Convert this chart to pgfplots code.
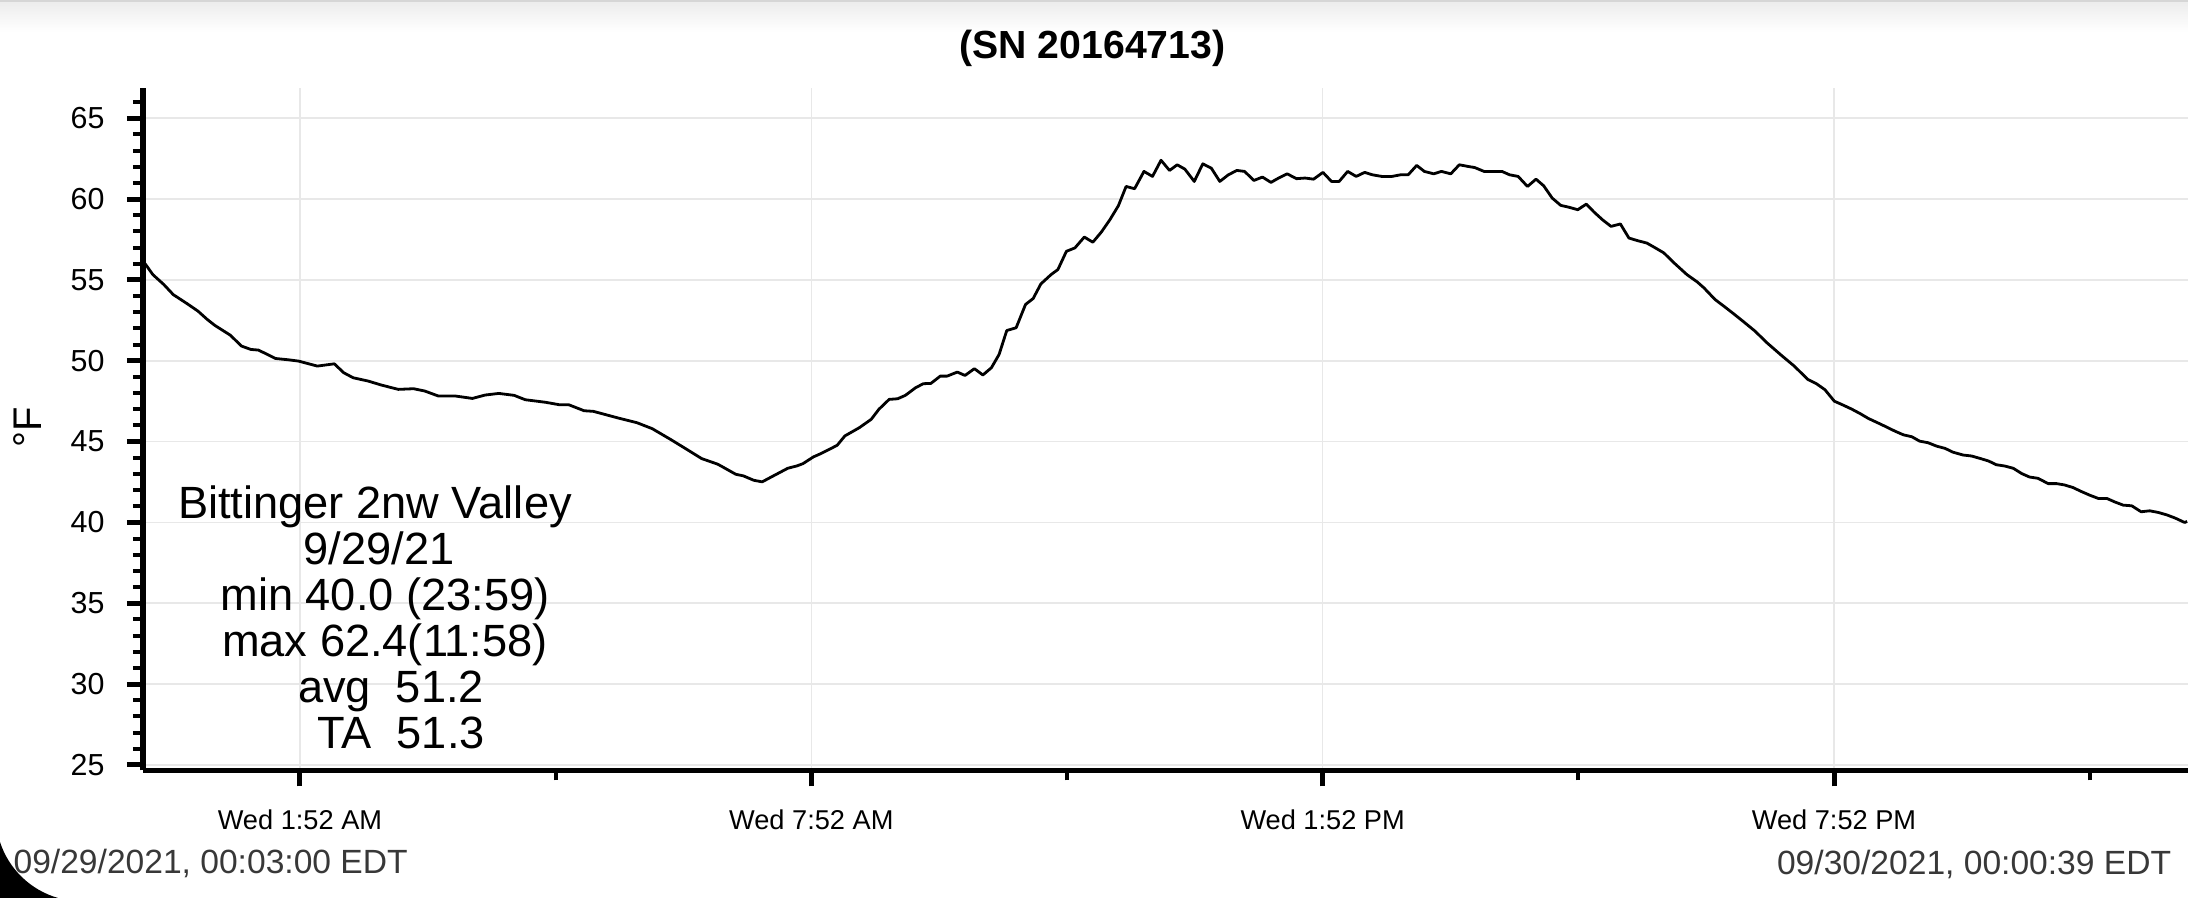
\documentclass[border=0pt]{standalone}
\usepackage{fontspec}
\setmainfont{Liberation Sans}
\usepackage{pgfplots}
\pgfplotsset{compat=1.18}
\pgfplotstableread{
h t
0.05 56.00
0.14 55.33
0.27 54.71
0.38 54.09
0.54 53.54
0.67 53.07
0.78 52.55
0.87 52.18
1.05 51.58
1.18 50.91
1.29 50.70
1.38 50.66
1.58 50.14
1.73 50.06
1.85 49.98
2.07 49.67
2.27 49.81
2.38 49.26
2.49 48.95
2.67 48.74
2.82 48.50
3.02 48.23
3.20 48.27
3.33 48.13
3.49 47.82
3.69 47.82
3.89 47.67
4.04 47.88
4.20 47.98
4.38 47.86
4.51 47.59
4.75 47.43
4.91 47.28
5.02 47.28
5.20 46.91
5.31 46.87
5.60 46.46
5.82 46.17
6.00 45.80
6.22 45.12
6.39 44.57
6.58 43.95
6.77 43.60
6.98 42.98
7.07 42.88
7.19 42.61
7.29 42.51
7.40 42.82
7.59 43.35
7.70 43.50
7.77 43.64
7.89 44.05
7.98 44.26
8.17 44.77
8.26 45.35
8.43 45.86
8.57 46.38
8.66 47.00
8.78 47.61
8.88 47.65
8.97 47.86
9.09 48.33
9.18 48.58
9.27 48.60
9.38 49.05
9.46 49.05
9.58 49.30
9.67 49.09
9.78 49.51
9.88 49.12
9.98 49.57
10.07 50.39
10.16 51.87
10.27 52.04
10.38 53.48
10.47 53.85
10.56 54.75
10.68 55.33
10.76 55.64
10.86 56.77
10.96 56.98
11.07 57.65
11.17 57.33
11.27 57.96
11.37 58.72
11.47 59.59
11.56 60.78
11.66 60.64
11.77 61.71
11.87 61.40
11.97 62.40
12.07 61.77
12.16 62.12
12.25 61.85
12.36 61.09
12.46 62.18
12.56 61.91
12.66 61.09
12.76 61.50
12.86 61.77
12.95 61.71
13.06 61.15
13.16 61.36
13.26 61.03
13.35 61.30
13.45 61.56
13.56 61.26
13.66 61.30
13.76 61.23
13.87 61.65
13.97 61.09
14.06 61.09
14.16 61.71
14.26 61.40
14.36 61.65
14.45 61.50
14.56 61.40
14.68 61.40
14.78 61.50
14.87 61.50
14.97 62.08
15.06 61.71
15.17 61.56
15.26 61.71
15.37 61.56
15.47 62.12
15.57 62.02
15.65 61.95
15.76 61.71
15.86 61.71
15.97 61.71
16.06 61.50
16.16 61.40
16.27 60.78
16.37 61.23
16.46 60.82
16.56 60.06
16.66 59.61
16.76 59.49
16.86 59.34
16.96 59.69
17.05 59.20
17.15 58.72
17.25 58.31
17.36 58.46
17.46 57.59
17.56 57.43
17.67 57.28
17.77 56.98
17.87 56.67
17.99 56.05
18.14 55.33
18.26 54.88
18.34 54.51
18.47 53.79
18.59 53.31
18.69 52.90
18.82 52.35
18.94 51.83
19.08 51.11
19.25 50.33
19.40 49.67
19.56 48.84
19.66 48.58
19.76 48.21
19.87 47.50
19.96 47.29
20.07 47.02
20.17 46.74
20.27 46.43
20.38 46.16
20.48 45.91
20.58 45.65
20.68 45.42
20.78 45.30
20.87 45.03
20.97 44.93
21.07 44.72
21.17 44.58
21.26 44.35
21.38 44.17
21.48 44.11
21.58 43.96
21.68 43.80
21.77 43.57
21.87 43.49
21.97 43.35
22.07 43.02
22.16 42.81
22.26 42.73
22.38 42.40
22.48 42.40
22.57 42.32
22.67 42.16
22.77 41.91
22.87 41.68
22.97 41.48
23.07 41.48
23.16 41.27
23.26 41.07
23.36 41.03
23.47 40.66
23.57 40.72
23.67 40.62
23.77 40.47
23.87 40.27
23.98 40.00
24.01 40.06
}\temps
\begin{document}
\begin{tikzpicture}
\useasboundingbox (0,0) rectangle (547pt,224.5pt);
\fill[white] (0,0) rectangle (547pt,224.5pt);
\fill[black!16] (0,223.75pt) rectangle (547pt,224.5pt);
\shade[top color=black!7, bottom color=white] (0,216.5pt) rectangle (547pt,223.75pt);
\begin{axis}[
  at={(35.75pt,31.875pt)}, anchor=south west,
  width=511.25pt, height=170.55pt, scale only axis,
  xmin=0.025, xmax=24.02, ymin=24.66, ymax=66.85,
  axis lines*=left,
  axis line style={line width=1.4pt, -, black},
  tick align=outside,
  major tick length=4pt, minor tick length=2.5pt,
  major tick style={line width=1.25pt, black},
  minor tick style={line width=1pt, black},
  xtick={1.8667,7.8667,13.8667,19.8667},
  xticklabels={Wed 1:52 AM, Wed 7:52 AM, Wed 1:52 PM, Wed 7:52 PM},
  minor xtick={4.8667,10.8667,16.8667,22.8667},
  ytick={25,30,...,65},
  minor ytick={26,27,28,29,31,32,33,34,36,37,38,39,41,42,43,44,46,47,48,49,51,52,53,54,56,57,58,59,61,62,63,64,66},
  grid=major,
  major grid style={draw=black!9, line width=0.4pt},
  /pgf/number format/assume math mode=true,
  xticklabel style={font=\fontsize{6.8}{8}\selectfont, yshift=-2.4pt},
  yticklabel style={font=\fontsize{7.6}{9}\selectfont, xshift=-2.1pt},
  ylabel={°F},
  ylabel style={at={(axis description cs:-0.0567,0.5035)}, anchor=center, font=\fontsize{10}{12}\selectfont},
  every axis title shift=0pt,
  title={(SN 20164713)},
  title style={at={(axis description cs:0.4643,1.0438)}, anchor=base, yshift=0pt, font=\bfseries\fontsize{9.8}{11.5}\selectfont},
  clip=true,
]
\addplot[black, line width=0.7pt, line join=round] table[x=h, y=t] {\temps};
\end{axis}
\node[anchor=north, align=center, inner sep=0pt, font=\fontsize{11.3}{11.5}\selectfont] at (93.75pt,103.25pt)
  {Bittinger 2nw Valley\\\hspace*{2pt}9/29/21\\\hspace*{5pt}min 40.0 (23:59)\\\hspace*{5pt}max 62.4(11:58)\\\hspace*{8pt}avg\ \ 51.2\\\hspace*{13pt}TA\ \ 51.3};
\node[anchor=base west, inner sep=0pt, text=black!78, font=\fontsize{8.4}{10}\selectfont] at (3.2pt,6pt) {09/29/2021, 00:03:00 EDT};
\node[anchor=base east, inner sep=0pt, text=black!78, font=\fontsize{8.4}{10}\selectfont] at (543pt,5.75pt) {09/30/2021, 00:00:39 EDT};
\fill[black] (0,0) -- (0,14pt) arc[start angle=198, end angle=254, radius=21.45pt] -- cycle;
\end{tikzpicture}
\end{document}
